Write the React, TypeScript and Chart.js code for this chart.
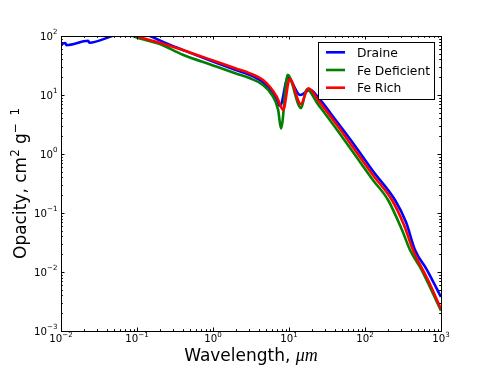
import React, { useEffect, useRef } from "react";
import { Chart, registerables } from "chart.js";

Chart.register(...registerables);

// ---- data (wavelength in micron, opacity in cm^2 g^-1)
const draineWavelength = [0.01, 0.0114, 0.0118, 0.0228, 0.0236, 0.047, 0.07, 0.1, 0.148, 0.25, 0.43, 1.0, 2.0, 3.07, 4.55, 5.6, 6.6, 7.6, 9.7, 14, 18.9, 24, 43, 74, 127, 248, 346, 455, 655, 1000];
const draineOpacity = [73, 76, 70, 83, 77, 100, 118, 118, 100, 74, 56, 37, 26.5, 21.8, 16.5, 12.8, 9.5, 6.5, 19.6, 10, 12.2, 9.2, 3.48, 1.37, 0.515, 0.166, 0.0703, 0.0236, 0.0108, 0.00377];

const feDeficientWavelength = [0.055, 0.0886, 0.2, 0.4, 1.0, 2.0, 3.07, 4.55, 5.97, 7.2, 7.85, 9.6, 14.4, 17.1, 24, 43, 74, 127, 201, 307, 391, 557, 675, 1000];
const feDeficientOpacity = [140, 100, 73, 48, 31.7, 23.2, 19.2, 14.8, 10, 5.6, 2.7, 22, 6.0, 12.5, 7.0, 2.55, 0.96, 0.363, 0.166, 0.0515, 0.0236, 0.0108, 0.0065, 0.0022];

const feRichWavelength = [0.06, 0.099, 0.2, 0.4, 1.0, 2.0, 3.07, 4.55, 5.6, 6.9, 8.4, 10.2, 14.3, 18, 24.1, 42.8, 73.8, 127, 226, 326, 428, 675, 1000];
const feRichOpacity = [140, 100, 77, 58, 38.5, 28.2, 23.3, 18, 13.8, 9.4, 5.6, 18.8, 7.0, 13, 8.2, 3.1, 1.17, 0.44, 0.166, 0.0626, 0.0236, 0.0073, 0.00236];

const seriesNames = ["Draine", "Fe Deficient", "Fe Rich"];
const seriesColors = ["#0000ff", "#008000", "#ff0000"];

const xTickValues = [0.01, 0.1, 1, 10, 100, 1000];
const xTickExponents = ["\u22122", "\u22121", "0", "1", "2", "3"];
const yTickValues = [0.001, 0.01, 0.1, 1, 10, 100];
const yTickExponents = ["\u22123", "\u22122", "\u22121", "0", "1", "2"];

const FONT = '"DejaVu Sans"';
const TICK_FONT = `10.2px ${FONT}`;
const SUP_FONT = `7.1px ${FONT}`;

function toPoints(xs: number[], ys: number[]) {
  return xs.map((x, i) => ({ x, y: ys[i] }));
}

function drawPow(ctx: CanvasRenderingContext2D, x: number, base: number, exp: string, align: "center" | "right") {
  ctx.font = TICK_FONT;
  const wb = ctx.measureText("10").width;
  ctx.font = SUP_FONT;
  const we = ctx.measureText(exp).width;
  const w = wb + we;
  const x0 = align === "center" ? x - w / 2 : x - w;
  ctx.font = TICK_FONT;
  ctx.fillText("10", x0, base);
  ctx.font = SUP_FONT;
  ctx.fillText(exp, x0 + wb, base - 5.3);
}

type Part = { t: string; f: string; dy?: number };

function drawParts(ctx: CanvasRenderingContext2D, parts: Part[], cx: number, base: number) {
  let total = 0;
  const widths = parts.map((p) => {
    ctx.font = p.f;
    const w = ctx.measureText(p.t).width;
    total += w;
    return w;
  });
  let x = cx - total / 2;
  parts.forEach((p, i) => {
    ctx.font = p.f;
    ctx.fillText(p.t, x, base + (p.dy || 0));
    x += widths[i];
  });
}

const mplPlugin = {
  id: "mplDecor",
  afterDraw(chart: any) {
    const { ctx, chartArea: a, scales } = chart;
    const xs = scales.x;
    const ys = scales.y;
    ctx.save();
    ctx.strokeStyle = "#000";
    ctx.fillStyle = "#000";
    ctx.lineWidth = 1;

    // frame
    ctx.strokeRect(a.left + 0.5, a.top + 0.5, a.right - a.left, a.bottom - a.top);

    // ticks (inward, all four sides)
    ctx.beginPath();
    for (let d = 0; d < xTickValues.length; d++) {
      for (let m = 1; m <= 9; m++) {
        const v = xTickValues[d] * m;
        if (v > xTickValues[xTickValues.length - 1] * 1.0001) break;
        const px = Math.round(xs.getPixelForValue(v)) + 0.5;
        const len = m === 1 ? 3.5 : 1.8;
        ctx.moveTo(px, a.bottom);
        ctx.lineTo(px, a.bottom - len);
        ctx.moveTo(px, a.top);
        ctx.lineTo(px, a.top + len);
      }
    }
    for (let d = 0; d < yTickValues.length; d++) {
      for (let m = 1; m <= 9; m++) {
        const v = yTickValues[d] * m;
        if (v > yTickValues[yTickValues.length - 1] * 1.0001) break;
        const py = Math.round(ys.getPixelForValue(v)) + 0.5;
        const len = m === 1 ? 3.5 : 1.8;
        ctx.moveTo(a.left, py);
        ctx.lineTo(a.left + len, py);
        ctx.moveTo(a.right, py);
        ctx.lineTo(a.right - len, py);
      }
    }
    ctx.stroke();

    // tick labels
    ctx.textBaseline = "alphabetic";
    ctx.textAlign = "left";
    xTickValues.forEach((v, i) => {
      drawPow(ctx, xs.getPixelForValue(v), a.bottom + 11.4, xTickExponents[i], "center");
    });
    yTickValues.forEach((v, i) => {
      drawPow(ctx, a.left - 3.5, ys.getPixelForValue(v) + 3.7, yTickExponents[i], "right");
    });

    // x axis title
    drawParts(
      ctx,
      [
        { t: "Wavelength, ", f: `17px ${FONT}` },
        { t: "\u03bcm", f: `italic 18px "Liberation Serif"` },
      ],
      (a.left + a.right) / 2,
      361
    );

    // y axis title
    ctx.save();
    ctx.translate(25.5, (a.top + a.bottom) / 2);
    ctx.rotate(-Math.PI / 2);
    drawParts(
      ctx,
      [
        { t: "Opacity, cm", f: `17px ${FONT}` },
        { t: "2", f: `11.9px ${FONT}`, dy: -7 },
        { t: " g", f: `17px ${FONT}` },
        { t: "\u2212", f: `11.9px ${FONT}`, dy: -7 },
        { t: "  ", f: `11.9px ${FONT}` },
        { t: "1", f: `11.9px ${FONT}`, dy: -7 },
      ],
      0,
      0
    );
    ctx.restore();

    // legend
    const bx = 318.5, by = 42.5, bw = 116, bh = 57;
    ctx.fillStyle = "#fff";
    ctx.fillRect(bx, by, bw, bh);
    ctx.strokeStyle = "#000";
    ctx.lineWidth = 1;
    ctx.strokeRect(bx, by, bw, bh);
    chart.data.datasets.forEach((ds: any, i: number) => {
      const rowY = 52.3 + i * 17.7;
      ctx.strokeStyle = ds.borderColor;
      ctx.lineWidth = 2.6;
      ctx.beginPath();
      ctx.moveTo(326, rowY);
      ctx.lineTo(345, rowY);
      ctx.stroke();
      ctx.fillStyle = "#000";
      ctx.font = `12.3px ${FONT}`;
      ctx.textAlign = "left";
      ctx.fillText(ds.label, 357, rowY + 4.6);
    });

    ctx.restore();
  },
};

export default function App() {
  const ref = useRef<HTMLCanvasElement | null>(null);

  useEffect(() => {
    if (!ref.current) return;
    const series = [
      toPoints(draineWavelength, draineOpacity),
      toPoints(feDeficientWavelength, feDeficientOpacity),
      toPoints(feRichWavelength, feRichOpacity),
    ];
    const chart = new Chart(ref.current, {
      type: "line",
      data: {
        datasets: series.map((pts, i) => ({
          label: seriesNames[i],
          data: pts,
          borderColor: seriesColors[i],
          backgroundColor: seriesColors[i],
          borderWidth: 2.6,
          pointRadius: 0,
          fill: false,
          cubicInterpolationMode: "monotone" as const,
          borderJoinStyle: "round" as const,
          clip: 0,
          order: 3 - i,
        })),
      },
      options: {
        animation: false,
        responsive: true,
        maintainAspectRatio: false,
        events: [],
        layout: { padding: { left: 61, right: 50, top: 36, bottom: 37 } },
        scales: {
          x: { type: "logarithmic", min: 0.01, max: 1000, display: false },
          y: { type: "logarithmic", min: 0.001, max: 100, display: false },
        },
        plugins: { legend: { display: false }, tooltip: { enabled: false } },
      },
      plugins: [mplPlugin],
    } as any);
    return () => chart.destroy();
  }, []);

  return (
    <div style={{ position: "fixed", left: 0, top: 0, width: 491, height: 368, background: "#fff" }}>
      <canvas ref={ref} />
    </div>
  );
}
